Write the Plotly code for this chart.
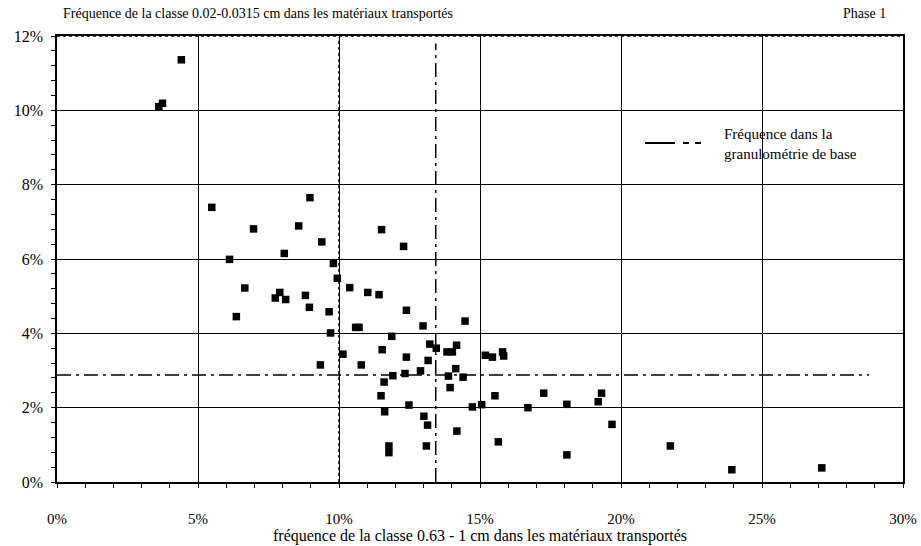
import plotly.graph_objects as go

# fréquence 0.63-1 cm (x, %) et fréquence 0.02-0.0315 cm (y, %)
x_freq = [4.41, 3.61, 3.74, 5.49, 8.97, 6.97, 8.57, 9.39, 8.06, 6.12,
          9.80, 9.94, 6.66, 7.90, 7.74, 8.11, 8.81, 8.95, 6.36, 9.65,
          9.70, 10.38, 11.02, 11.42, 11.51, 12.29, 12.39, 12.98, 14.47, 10.59,
          10.71, 11.87, 13.22, 13.45, 14.17, 11.53, 13.83, 14.02, 15.19, 15.44,
          15.84, 15.80, 10.14, 9.34, 10.79, 12.39, 13.16, 11.91, 12.34, 12.89,
          13.88, 14.14, 14.40, 11.60, 13.94, 11.49, 15.53, 17.26, 12.48, 14.73,
          15.06, 16.70, 18.08, 11.62, 13.01, 13.14, 14.18, 15.65, 11.77, 11.77,
          13.10, 18.08, 19.19, 19.31, 19.68, 21.75, 23.93, 27.12]
y_freq = [11.36, 10.10, 10.19, 7.39, 7.65, 6.81, 6.89, 6.46, 6.15, 5.99,
          5.88, 5.48, 5.22, 5.10, 4.95, 4.91, 5.02, 4.70, 4.45, 4.58,
          4.01, 5.23, 5.10, 5.04, 6.79, 6.34, 4.62, 4.20, 4.33, 4.16,
          4.16, 3.92, 3.71, 3.60, 3.68, 3.56, 3.50, 3.50, 3.41, 3.36,
          3.39, 3.50, 3.44, 3.15, 3.15, 3.36, 3.27, 2.86, 2.92, 2.99,
          2.85, 3.05, 2.82, 2.69, 2.54, 2.32, 2.32, 2.39, 2.07, 2.02,
          2.08, 2.00, 2.09, 1.89, 1.77, 1.53, 1.37, 1.08, 0.79, 0.97,
          0.97, 0.73, 2.16, 2.39, 1.55, 0.97, 0.33, 0.38]

# fréquences dans la granulométrie de base
base_x = 13.43
base_y = 2.88
base_x_end = 28.8
base_y_end = 11.8

serif = "Liberation Serif"
dashdot = "14px,5px,3px,5px"

fig = go.Figure()

fig.add_trace(go.Scatter(
    x=x_freq, y=y_freq, mode="markers",
    marker=dict(symbol="square", size=7.5, color="black"),
    showlegend=False, hoverinfo="x+y"))

fig.add_trace(go.Scatter(
    x=[0, base_x_end, None, base_x, base_x],
    y=[base_y, base_y, None, 0, base_y_end],
    mode="lines",
    line=dict(color="black", width=1.5, dash=dashdot),
    showlegend=False, hoverinfo="skip"))

# la grille à 10 % et le bord supérieur sont pointillés dans l'original
for ln in [dict(x0=10, x1=10, y0=0, y1=1, xref="x", yref="paper"),
           dict(x0=0, x1=1, y0=1, y1=1, xref="paper", yref="paper")]:
    fig.add_shape(type="line", layer="below", line=dict(color="white", width=3), **ln)
    fig.add_shape(type="line", layer="below", line=dict(color="black", width=1.5, dash="dot"), **ln)

# légende dessinée à la main (échantillon de trait + texte)
fig.add_shape(type="line", xref="paper", yref="paper",
              x0=(645 - 57) / 846, x1=(702 - 57) / 846,
              y0=(482 - 143) / 446, y1=(482 - 143) / 446,
              line=dict(color="black", width=2, dash="30px,8px,6px,6px,6px"))

fig.update_layout(
    width=921, height=546,
    margin=dict(l=57, r=18, t=36, b=64),
    paper_bgcolor="white", plot_bgcolor="white",
    font=dict(family=serif, size=15, color="black"),
    annotations=[
        dict(text="Fréquence de la classe 0.02-0.0315 cm dans les matériaux transportés",
             xref="paper", yref="paper", x=0.005, y=1.05, xanchor="left",
             yanchor="middle", showarrow=False, font=dict(size=14, family=serif)),
        dict(text="Phase 1", xref="paper", yref="paper", x=0.982, y=1.05,
             xanchor="right", yanchor="middle", showarrow=False,
             font=dict(size=14, family=serif)),
        dict(text="Fréquence dans la<br>granulométrie de base", align="left",
             xref="paper", yref="paper", x=(722 - 57) / 846, y=(482 - 144) / 446,
             xanchor="left", yanchor="middle", showarrow=False,
             font=dict(size=15, family=serif)),
    ],
)

fig.update_xaxes(
    range=[0, 30], dtick=5, ticksuffix="%", showgrid=True,
    gridcolor="black", gridwidth=1.2, zeroline=False,
    showline=True, linecolor="black", linewidth=1.5, mirror=True,
    ticks="outside", ticklen=4, tickcolor="black", ticklabelstandoff=18,
    tickfont=dict(size=15, family=serif),
    minor=dict(dtick=1, ticks="outside", ticklen=4, tickcolor="black", showgrid=False),
    title=dict(text="fréquence de la classe 0.63 - 1 cm dans les matériaux transportés",
               standoff=2, font=dict(size=16, family=serif)),
    automargin=False)

fig.update_yaxes(
    range=[0, 12], dtick=2, ticksuffix="%", showgrid=True,
    gridcolor="black", gridwidth=1.2, zeroline=False,
    showline=True, linecolor="black", linewidth=1.5, mirror=True,
    ticks="outside", ticklen=4, tickcolor="black", ticklabelstandoff=5,
    tickfont=dict(size=16, family=serif),
    minor=dict(dtick=0.4, ticks="outside", ticklen=4, tickcolor="black", showgrid=False),
    automargin=False)

fig.write_html("out.html", config={"displayModeBar": False},
               post_script="document.body.style.margin='0';")
